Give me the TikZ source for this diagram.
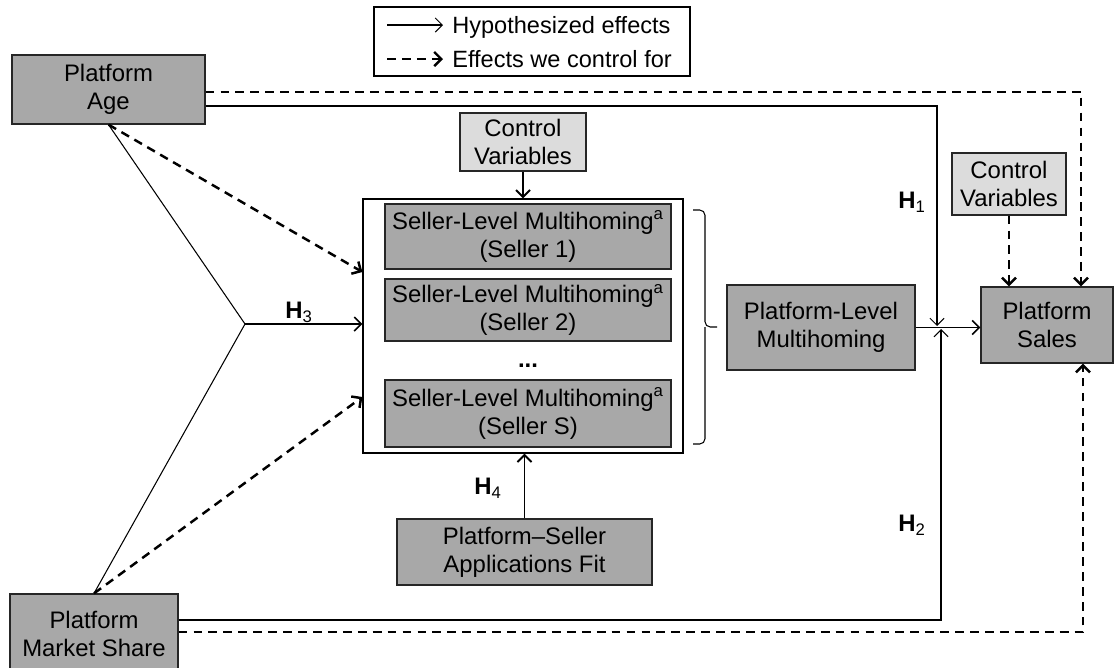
\documentclass[tikz,border=0pt]{standalone}
\usepackage{fontspec}
\setmainfont{Liberation Sans}
\usepackage{tikz}
\usetikzlibrary{arrows.meta,positioning,calc}
\usepackage{xcolor}
\definecolor{boxgray}{RGB}{168,168,168}
\definecolor{ctrlgray}{RGB}{220,220,220}

\begin{document}
\begin{tikzpicture}[
  x=0.02cm, y=-0.02cm,
  every node/.style={font=\fontsize{13.6}{16}\selectfont, align=center, inner sep=0pt},
  >={Straight Barb[length=4pt,width=8pt]},
  var/.style={draw=black!85, line width=0.7pt, fill=boxgray},
  ctrlvar/.style={draw=black!85, line width=0.7pt, fill=ctrlgray},
  hyp/.style={->, line width=0.6pt},
  ctrl/.style={->, line width=1.4pt, dash pattern=on 5pt off 3.5pt},
  hlab/.style={font=\fontsize{13.6}{16}\selectfont\bfseries},
  legtext/.style={anchor=base west, font=\fontsize{13.4}{16}\selectfont}
]
\useasboundingbox (0,0) rectangle (1116,667);

% legend
\node[draw, line width=0.7pt, minimum width=6.32cm, minimum height=1.38cm] (legend) at (532,41.5) {};
\coordinate (lg1) at (387,25);
\coordinate (lg2) at (387,59);
\draw[hyp] (lg1) -- ++(56,0);
\draw[ctrl] (lg2) -- ++(56,0);
\node[legtext] (hypt) at (452,33) {Hypothesized effects};
\node[legtext] (ctrlt) at (452,67) {Effects we control for};

% variables
\node[var, minimum width=3.86cm, minimum height=1.38cm] (age) at (108.5,89.5) {Platform\\Age};
\node[var, minimum width=3.36cm, minimum height=1.6cm] (share) at (94,634) {Platform\\Market Share};
\node[ctrlvar, minimum width=2.52cm, minimum height=1.16cm] (ctrlA) at (523,142) {Control\\Variables};
\node[draw, line width=0.7pt, minimum width=6.4cm, minimum height=5.08cm] (outer) at (523,326) {};
\node[var, minimum width=5.72cm, minimum height=1.3cm] (s1) at (528,236.5) {Seller-Level Multihoming\textsuperscript{a}\\(Seller 1)};
\node[var, minimum width=5.72cm, minimum height=1.24cm] (s2) at (528,310) {Seller-Level Multihoming\textsuperscript{a}\\(Seller 2)};
\node[anchor=base] (dots) at (528,367) {\textbf{...}};
\node[var, minimum width=5.72cm, minimum height=1.34cm] (s3) at (528,413.5) {Seller-Level Multihoming\textsuperscript{a}\\(Seller S)};
\node[var, minimum width=3.76cm, minimum height=1.7cm] (plm) at (821,327.5) {Platform-Level\\Multihoming};
\node[ctrlvar, minimum width=2.28cm, minimum height=1.24cm] (ctrlB) at (1009,184) {Control\\Variables};
\node[var, minimum width=2.64cm, minimum height=1.52cm] (sales) at (1047,325) {Platform\\Sales};
\node[var, minimum width=5.1cm, minimum height=1.32cm] (fit) at (524.5,552) {Platform–Seller\\Applications Fit};

% hypothesis labels
\node[hlab] (h1) at (912,202) {H\textsubscript{\mdseries 1}};
\node[hlab] (h2) at (912,525) {H\textsubscript{\mdseries 2}};
\node[hlab] (h3) at (299,312) {H\textsubscript{\mdseries 3}};
\node[hlab] (h4) at (488,488) {H\textsubscript{\mdseries 4}};

% brace over the sellers
\draw[line width=0.6pt, rounded corners=3pt] (693,210) -| (705,327) -- (717,327);
\draw[line width=0.6pt, rounded corners=3pt] (693,444) -| (705,327);

% H3 fork
\coordinate (hub) at (245,324);
\draw[line width=0.6pt] (age.south) -- (hub);
\draw[line width=0.6pt] (share.north) -- (hub);
\draw[hyp, line width=0.9pt] (hub) -- (hub -| outer.west);
\draw[ctrl] (age.south) -- (outer.west |- 0,272);
\draw[ctrl] (share.north) -- (outer.west |- 0,397);

% into the seller box
\draw[->, line width=1.1pt] (ctrlA.south) -- (outer.north);
\draw[->, line width=1.1pt] (fit.north) -- (fit.north |- outer.south);

% to platform sales
\coordinate (h1end) at (937,326);
\coordinate (h2end) at (941,329);
\draw[hyp, line width=0.9pt] (plm.east) -- (plm.east -| sales.west);
\draw[hyp] (age.east |- 0,106) -| (h1end);
\draw[hyp] (share.east |- 0,620) -| (h2end);
\draw[ctrl] (age.east |- 0,92) -| (sales.north -| 1081,0);
\draw[ctrl] (share.east |- 0,632) -| (sales.south -| 1083,0);
\draw[ctrl] (ctrlB.south) -- (ctrlB.south |- sales.north);
\end{tikzpicture}
\end{document}
